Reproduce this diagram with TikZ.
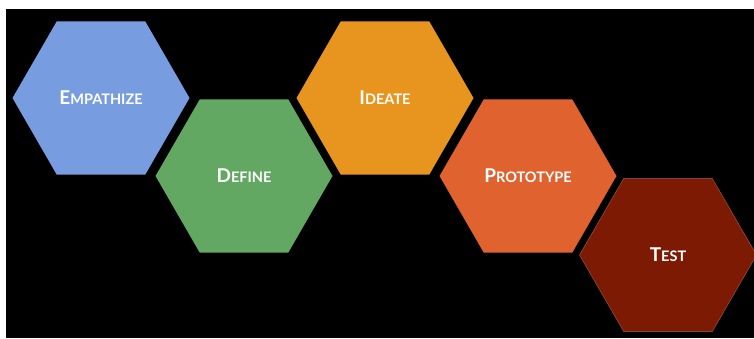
\documentclass[tikz,border=0pt]{standalone}
\usepackage{fontspec}
\setmainfont{Lato}
\usetikzlibrary{shapes.geometric}

\definecolor{empblue}{HTML}{789CE0}
\definecolor{defgreen}{HTML}{62A862}
\definecolor{ideorange}{HTML}{E8951F}
\definecolor{protored}{HTML}{E0622E}
\definecolor{testred}{HTML}{7D1A04}

\tikzset{
  hexa/.style={regular polygon, regular polygon sides=6, minimum size=177pt,
    inner sep=0pt, text=white, font=\bfseries}
}
% first letter large, rest in small caps
\newcommand{\capword}[2]{{\fontsize{19}{19}\selectfont #1}{\fontsize{14.5}{14.5}\selectfont #2}}

\begin{document}
\begin{tikzpicture}[x=1pt,y=-1pt]
            \fill[white] (0,0) rectangle (754,338);
            \clip (0,0) rectangle (754,338);
            \fill[black] (6,9) rectangle (754,338);
            \node[hexa, fill=empblue] (empathize) at (101,98) {\capword{E}{MPATHIZE}};
            \node[hexa, fill=defgreen] (define) at (244,176) {\capword{D}{EFINE}};
            \node[hexa, fill=ideorange] (ideate) at (385,98) {\capword{I}{DEATE}};
            \node[hexa, fill=protored] (prototype) at (528,176) {\capword{P}{ROTOTYPE}};
            \node[hexa, fill=testred, draw=testred!70!white, line width=0.4pt] (test) at (668,255) {\capword{T}{EST}};
        \end{tikzpicture}
\end{document}
